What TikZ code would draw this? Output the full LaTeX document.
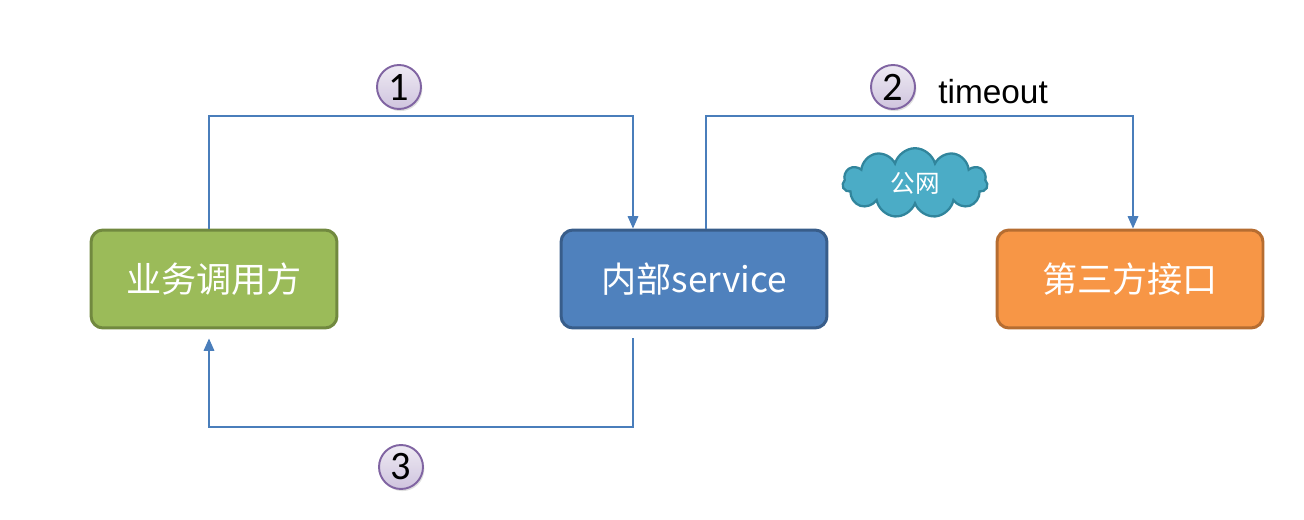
\documentclass[tikz,border=0pt]{standalone}
\usepackage{fontspec}
\newfontfamily\cjk{Noto Sans CJK SC}
\newfontfamily\numfont{Carlito}
\newfontfamily\latfont{Liberation Sans}
\usetikzlibrary{arrows.meta,calc,shapes.symbols,shadows}
\definecolor{flowblue}{HTML}{4A7EBB}
\definecolor{greenfill}{HTML}{9BBB59}
\definecolor{greenline}{HTML}{71893F}
\definecolor{bluefill}{HTML}{4F81BD}
\definecolor{blueline}{HTML}{385D8A}
\definecolor{orangefill}{HTML}{F79646}
\definecolor{orangeline}{HTML}{B66D31}
\definecolor{cloudfill}{HTML}{4BACC6}
\definecolor{cloudline}{HTML}{31859C}
\definecolor{stepline}{HTML}{8064A2}
\definecolor{steptop}{HTML}{EEEAF3}
\definecolor{stepbot}{HTML}{CFC4DE}
\tikzset{
  party/.style={draw, rounded corners=0.24cm, line width=1.7pt, minimum width=4.92cm,
    minimum height=1.96cm, text=white, font=\cjk\fontsize{20pt}{24pt}\selectfont},
  flow/.style={draw=flowblue, line width=0.85pt, -{Triangle[length=7pt,width=6pt]}},
  stepnum/.style={circle, draw=stepline, line width=1.1pt, minimum size=0.88cm, inner sep=0pt,
    top color=steptop, bottom color=stepbot,
    drop shadow={opacity=0.25, shadow xshift=0.8pt, shadow yshift=-1.2pt},
    font=\numfont\fontsize{23pt}{26pt}\selectfont}
}
\begin{document}
\begin{tikzpicture}[x=0.02cm,y=-0.02cm]
\useasboundingbox (0,0) rectangle (1304,520);
\node[party, fill=greenfill, draw=greenline] (caller) at (214,279) {业务调用方};
\node[party, fill=bluefill, draw=blueline, minimum width=5.32cm] (svc) at (694,279) {内部service};
\node[party, fill=orangefill, draw=orangeline, minimum width=5.32cm] (api) at (1130,279) {第三方接口};
\node[cloud, cloud puffs=11, aspect=2.3, fill=cloudfill, draw=cloudline, line width=1.3pt,
  minimum width=2.9cm, minimum height=1.3cm, text=white,
  font=\cjk\fontsize{14pt}{16pt}\selectfont] (net) at (915,183) {公网};
\coordinate (t1) at (633,116);
\coordinate (t2) at (1133,116);
\coordinate (b3) at (209,427);
\draw[flow] ([xshift=-0.1cm]caller.north) |- (t1) -- (t1 |- svc.north);
\draw[flow] ([xshift=0.24cm]svc.north) |- (t2) -- (t2 |- api.north);
\draw[flow] ($(svc.south -| t1)+(0,9)$) |- (b3) -- ($(caller.south -| b3)+(0,9)$);
\node[stepnum] (s1) at (399,87) {1};
\node[stepnum] (s2) at (893,87) {2};
\node[stepnum] (s3) at (401,467) {3};
\node[anchor=west, inner sep=0pt, font=\latfont\fontsize{19pt}{22pt}\selectfont] (tmo) at (938,92) {timeout};
\end{tikzpicture}
\end{document}
